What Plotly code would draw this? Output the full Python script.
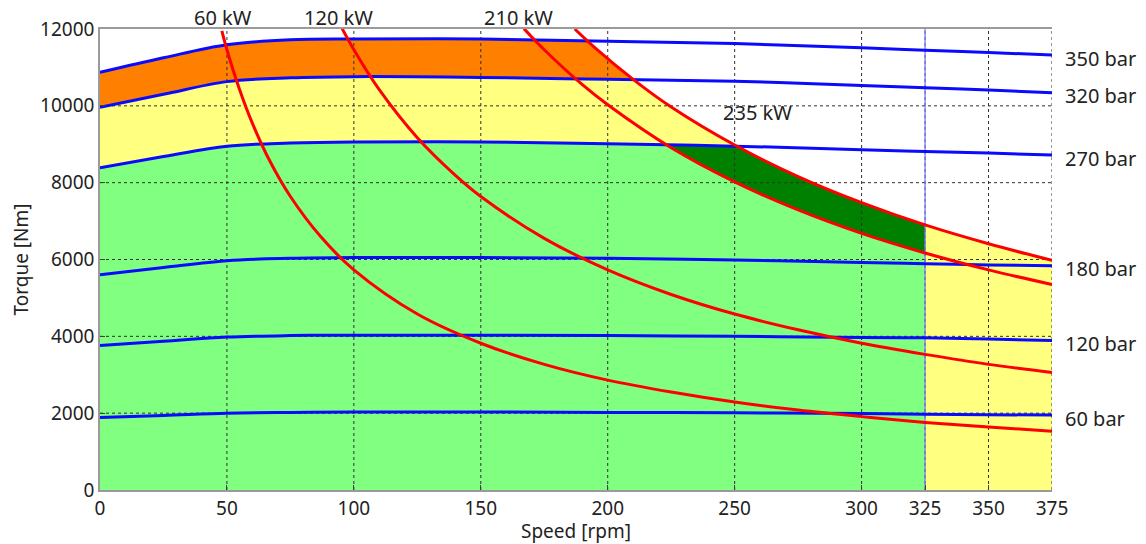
import numpy as np
import plotly.graph_objects as go

# ---------------- data ----------------
speed_ticks = [0, 50, 100, 150, 200, 250, 300, 325, 350, 375]
torque_ticks = [0, 2000, 4000, 6000, 8000, 10000, 12000]
speed_limit = 325

# constant-pressure torque lines
pressure_speed = [0, 25, 50, 75, 100, 150, 200, 250, 300, 325, 350, 375]
bar_350 = [10870, 11250, 11590, 11720, 11740, 11740, 11680, 11620, 11510, 11450, 11390, 11320]
bar_320 = [9960, 10300, 10630, 10730, 10760, 10740, 10690, 10640, 10530, 10470, 10410, 10340]
bar_270 = [8390, 8680, 8950, 9030, 9060, 9060, 9010, 8950, 8860, 8810, 8770, 8720]
bar_180 = [5600, 5790, 5970, 6030, 6050, 6050, 6030, 5990, 5920, 5890, 5860, 5840]
bar_120 = [3760, 3870, 3980, 4020, 4030, 4030, 4020, 4000, 3970, 3960, 3930, 3890]
bar_60 = [1890, 1940, 2000, 2020, 2030, 2030, 2020, 2010, 1990, 1970, 1960, 1950]
pressure_labels = ["350 bar", "320 bar", "270 bar", "180 bar", "120 bar", "60 bar"]

# constant-power curves
kw60_speed = [48, 50, 55, 60, 67, 75, 87, 100, 125, 150, 175, 200, 225, 250, 275, 300, 325, 350, 375]
kw60_torque = [11950, 11460, 10420, 9550, 8550, 7640, 6590, 5730, 4580, 3820, 3270, 2860, 2550, 2290, 2080, 1910, 1760, 1640, 1530]
kw120_speed = [95, 100, 110, 125, 140, 150, 175, 200, 225, 250, 275, 300, 325, 350, 375]
kw120_torque = [12060, 11460, 10420, 9170, 8190, 7640, 6550, 5730, 5090, 4580, 4170, 3820, 3530, 3270, 3060]
kw210_speed = [167, 175, 190, 200, 225, 250, 275, 300, 325, 350, 375]
kw210_torque = [12010, 11460, 10550, 10030, 8910, 8020, 7290, 6680, 6170, 5730, 5350]
kw235_speed = [187, 195, 210, 225, 250, 275, 300, 325, 350, 375]
kw235_torque = [12000, 11510, 10690, 9970, 8980, 8160, 7480, 6900, 6410, 5980]

power_labels = ["60 kW", "120 kW", "210 kW", "235 kW"]
power_label_speed = [48.5, 94, 165, 259]
power_label_torque = [12290, 12290, 12290, 9820]

# ---------------- derived region boundaries ----------------
xg = np.linspace(0, 375, 1501)


def lin(xs, ys):
    return np.interp(xg, xs, ys)


def powc(xs, ts):
    out = np.full_like(xg, 1e9)
    m = xg >= xs[0]
    out[m] = np.exp(np.interp(np.log(xg[m]), np.log(xs), np.log(ts)))
    return out


P350, P320, P270 = lin(pressure_speed, bar_350), lin(pressure_speed, bar_320), lin(pressure_speed, bar_270)
T210, T235 = powc(kw210_speed, kw210_torque), powc(kw235_speed, kw235_torque)

fig = go.Figure()


def band(x, up, lo, color):
    fig.add_trace(go.Scatter(
        x=np.concatenate([x, x[::-1]]), y=np.concatenate([up, lo[::-1]]),
        fill="toself", fillcolor=color, mode="lines", line=dict(width=0),
        hoverinfo="skip", showlegend=False))


# orange: 320..350 bar, limited by 235 kW
up = np.minimum(P350, T235)
m = up > P320
band(xg[m], up[m], P320[m], "#ff8000")

# yellow: 270..320 bar (and full height above speed limit), limited by 235 kW
up = np.minimum(P320, T235)
left = xg <= speed_limit
right = xg >= speed_limit
yx = np.concatenate([xg[left], xg[right]])
yup = np.concatenate([up[left], up[right]])
ylo = np.concatenate([np.minimum(P270, up)[left], np.zeros(right.sum())])
band(yx, yup, ylo, "#ffff80")

# light green: below 270 bar / 210 kW up to speed limit
up = np.minimum(P270, T210)
band(xg[left], up[left], np.zeros(left.sum()), "#80ff80")

# dark green: between 210 kW and 235 kW below 270 bar
up = np.minimum(P270, T235)
m = left & (up > T210)
band(xg[m], up[m], T210[m], "#008000")

# grid (dotted, drawn above the fills)
gx, gy = [], []
for v in speed_ticks[1:]:
    gx += [v, v, None]
    gy += [torque_ticks[0], torque_ticks[-1], None]
fig.add_trace(go.Scatter(x=gx, y=gy, mode="lines", line=dict(color="#303030", width=1, dash="dot"),
                         hoverinfo="skip", showlegend=False))
hx, hy = [], []
for v in torque_ticks[1:-1]:
    hx += [speed_ticks[0], speed_ticks[-1], None]
    hy += [v, v, None]
fig.add_trace(go.Scatter(x=hx, y=hy, mode="lines", line=dict(color="#303030", width=1, dash="dot"),
                         hoverinfo="skip", showlegend=False))

# speed limit line
fig.add_trace(go.Scatter(x=[speed_limit, speed_limit], y=[torque_ticks[0], torque_ticks[-1]], mode="lines",
                         line=dict(color="#7878ff", width=1.3), hoverinfo="skip", showlegend=False))

# pressure lines
for ys in [bar_350, bar_320, bar_270, bar_180, bar_120, bar_60]:
    fig.add_trace(go.Scatter(x=pressure_speed, y=ys, mode="lines", line=dict(color="#0a0aff", width=3, shape="spline"),
                             showlegend=False))

# power curves
for xs, ys in [(kw60_speed, kw60_torque), (kw120_speed, kw120_torque),
               (kw210_speed, kw210_torque), (kw235_speed, kw235_torque)]:
    fig.add_trace(go.Scatter(x=xs, y=ys, mode="lines", line=dict(color="#ff0000", width=3, shape="spline"),
                             cliponaxis=True, showlegend=False))

FONT = "Noto Sans"
TXT = "#222222"

for lab, ys in zip(pressure_labels, [bar_350, bar_320, bar_270, bar_180, bar_120, bar_60]):
    fig.add_annotation(x=pressure_speed[-1], y=ys[-1], text=lab, showarrow=False, xanchor="left",
                       yanchor="middle", xshift=11, yshift=-3, font=dict(family=FONT, size=20, color=TXT))

tmax = torque_ticks[-1]
for lab, xv, yv in zip(power_labels, power_label_speed, power_label_torque):
    fig.add_annotation(x=xv, y=yv / tmax, yref="paper", text=lab, showarrow=False, xanchor="center",
                       yanchor="middle", font=dict(family=FONT, size=20, color=TXT))

# page body has an 8px margin: shrink the figure so it fits the 1146x544 window
fig.update_layout(
    width=1138, height=536,
    margin=dict(l=92, r=94, t=21, b=54, autoexpand=False),
    paper_bgcolor="white", plot_bgcolor="white",
    font=dict(family=FONT, size=19, color=TXT),
    showlegend=False,
    xaxis=dict(range=[0, 375], tickvals=speed_ticks, ticktext=[str(v) for v in speed_ticks],
               showgrid=False, zeroline=False, automargin=False,
               showline=True, linecolor="#9a9a9a", linewidth=1.5, mirror=True,
               ticks="inside", ticklen=5, tickcolor="#404040", layer="above traces",
               title=dict(text="Speed [rpm]", standoff=2, font=dict(size=19))),
    yaxis=dict(range=[0, 12000], tickvals=torque_ticks, ticktext=[str(v) for v in torque_ticks],
               showgrid=False, zeroline=False, automargin=False,
               showline=True, linecolor="#9a9a9a", linewidth=1.5,
               ticks="inside", ticklen=5, tickcolor="#404040", layer="above traces",
               title=dict(text="Torque [Nm]", standoff=17, font=dict(size=19))),
)

fig.write_html("out.html")
